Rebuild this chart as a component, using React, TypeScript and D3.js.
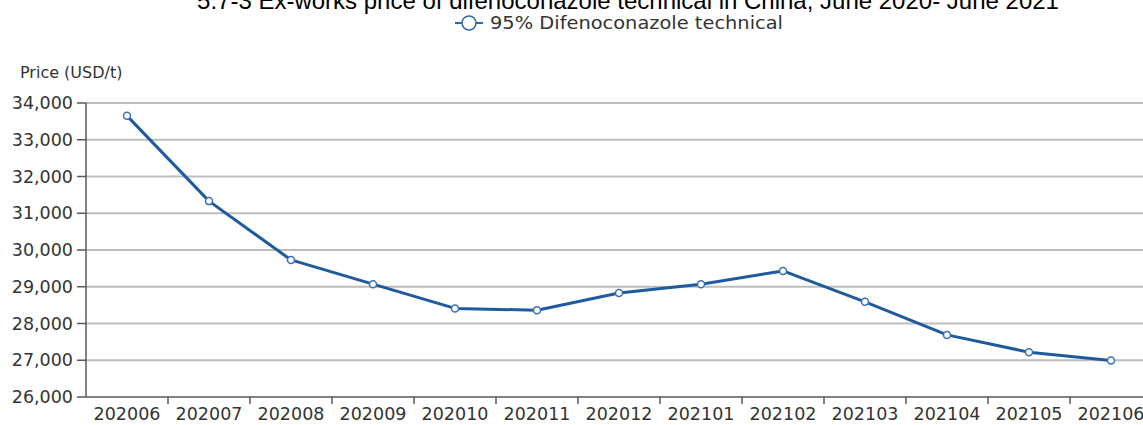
import React from "react";
import * as d3 from "d3";

const months = ["202006","202007","202008","202009","202010","202011","202012","202101","202102","202103","202104","202105","202106"];
const prices = [33650, 31330, 29730, 29070, 28410, 28360, 28830, 29070, 29430, 28590, 27690, 27220, 26990];
const yTicks = [26000, 27000, 28000, 29000, 30000, 31000, 32000, 33000, 34000];
const seriesName = "95% Difenoconazole technical";
const titleText = "5.7-3 Ex-works price of difenoconazole technical in China, June 2020- June 2021";

const W = 1143, H = 425;
const left = 86, top = 103, bottom = 397;
const step = 82;
const font = "'DejaVu Sans', sans-serif";

export default function App() {
  const x = d3.scaleBand<string>().domain(months).range([left, left + step * months.length]).paddingInner(0).paddingOuter(0);
  const y = d3.scaleLinear().domain([26000, 34000]).range([bottom, top]);
  const cx = (m: string) => (x(m) as number) + x.bandwidth() / 2;
  const line = d3.line<number>().x((_, i) => cx(months[i])).y((d) => y(d));
  const fmt = d3.format(",");
  return (
    <svg width={W} height={H} style={{ position: "absolute", left: 0, top: 0, background: "#fff" }}>
      <text x={628} y={9} textAnchor="middle" fontFamily="'Liberation Sans', Arial, sans-serif" fontSize={24} fill="#000">{titleText}</text>
      <g>
        <line x1={455} x2={483} y1={23} y2={23} stroke="#2e67ad" strokeWidth={2} />
        <circle cx={469} cy={23} r={7} fill="#fff" stroke="#2e67ad" strokeWidth={1.5} />
        <text x={490} y={29} fontFamily={font} fontSize={17} fill="#333" textLength={293} lengthAdjust="spacingAndGlyphs">{seriesName}</text>
      </g>
      <text x={20} y={78} fontFamily={font} fontSize={16} fill="#333">Price (USD/t)</text>
      {yTicks.map((t) => (
        <g key={t}>
          {t !== 26000 && <line x1={left} x2={W} y1={y(t)} y2={y(t)} stroke="#bdbdbd" strokeWidth={2} />}
          <line x1={77} x2={left} y1={y(t)} y2={y(t)} stroke="#595959" strokeWidth={1.5} />
          <text x={73} y={y(t) + 6} textAnchor="end" fontFamily={font} fontSize={17.5} fill="#333">{fmt(t)}</text>
        </g>
      ))}
      <line x1={left} x2={left} y1={top} y2={bottom} stroke="#595959" strokeWidth={1.5} />
      <line x1={left} x2={W} y1={bottom} y2={bottom} stroke="#595959" strokeWidth={1.5} />
      {months.map((m, i) => (
        <g key={m}>
          {i > 0 && <line x1={x(m) as number} x2={x(m) as number} y1={bottom} y2={bottom + 7} stroke="#595959" strokeWidth={1.5} />}
          <text x={cx(m)} y={420} textAnchor="middle" fontFamily={font} fontSize={17.5} fill="#333">{m}</text>
        </g>
      ))}
      <path d={line(prices) || ""} fill="none" stroke="#1f5a9e" strokeWidth={3} strokeLinejoin="round" />
      {prices.map((p, i) => (
        <circle key={i} cx={cx(months[i])} cy={y(p)} r={3.5} fill="#fff" stroke="#3a70b5" strokeWidth={1.5} />
      ))}
    </svg>
  );
}
